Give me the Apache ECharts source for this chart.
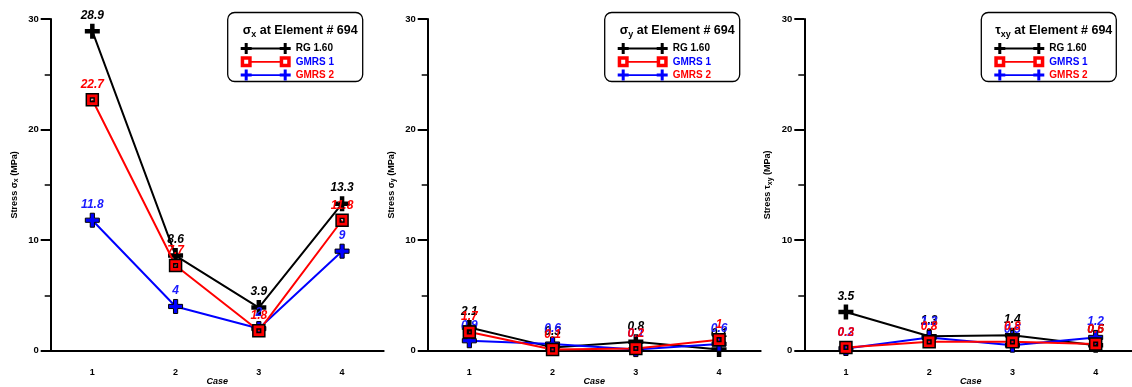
<!DOCTYPE html>
<html lang="en">
<head>
<meta charset="utf-8">
<script src="https://cdn.jsdelivr.net/npm/echarts@6/dist/echarts.min.js"></script>
<style>
  html, body { margin: 0; padding: 0; background: #fff; }
  #chart { width: 1132px; height: 387px; }
</style>
<title>Stress at Element # 694</title>
</head>
<body>
<div id="chart"></div>
<script>
// cases on the x axis
var cases = ['1', '2', '3', '4'];
var yTicks = [0, 10, 20, 30];

// sigma x
var sxRG = [28.9, 8.6, 3.9, 13.3];
var sxG1 = [22.7, 7.7, 1.8, 11.8];
var sxG2 = [11.8, 4, 2.0, 9];
// sigma y
var syRG = [2.1, 0.3, 0.8, 0.1];
var syG1 = [1.7, 0.1, 0.2, 1];
var syG2 = [0.9, 0.6, 0.1, 0.6];
// tau xy
var txRG = [3.5, 1.3, 1.4, 0.5];
var txG1 = [0.3, 0.8, 0.8, 0.6];
var txG2 = [0.2, 1.2, 0.5, 1.2];

var seriesNames = ['RG 1.60', 'GMRS 1', 'GMRS 2'];

var plus = 'path://M3.5,0H6.5V3.5H10V6.5H6.5V10H3.5V6.5H0V3.5H3.5Z';
var boxed = 'path://M0,0H10V10H0Z M3.5,3.5V6.5H6.5V3.5Z';
// legend icons: line with a marker at both ends
var plusIcon = 'path://M4,0H7V4H11V7H7V11H4V7H0V4H4Z M43,0H46V4H50V7H46V11H43V7H39V4H43Z M11,4.6H39V6.4H11Z';
var boxIcon = 'path://M0,0H11V11H0Z M3.5,3.5V7.5H7.5V3.5Z M39,0H50V11H39Z M42.5,3.5V7.5H46.5V3.5Z M11,4.6H39V6.4H11Z';

var panels = [
    {sym: 'σ', sub: 'x', rg: sxRG, g1: sxG1, g2: sxG2, left: 50.7},
    {sym: 'σ', sub: 'y', rg: syRG, g1: syG1, g2: syG2, left: 427.7},
    {sym: 'τ', sub: 'xy', rg: txRG, g1: txG1, g2: txG2, left: 804.3}
];

var font = '"Liberation Sans", Arial, sans-serif';
var richSub = {
    a: {fontFamily: font, fontWeight: 'bold', fontSize: 9, color: '#000'},
    s: {fontFamily: font, fontWeight: 'bold', fontSize: 7, color: '#000', padding: [4, 0, 0, 0]}
};
var richTitle = {
    a: {fontFamily: font, fontWeight: 'bold', fontSize: 12.5, color: '#000'},
    s: {fontFamily: font, fontWeight: 'bold', fontSize: 9, color: '#000', padding: [7, 0, 0, 0]}
};

var grids = [], xAxes = [], yAxes = [], series = [], titles = [], legends = [], graphics = [];

function labelStyle(c) {
    return {
        show: true, position: 'top', distance: 2,
        color: c, fontFamily: font, fontWeight: 'bold', fontStyle: 'italic', fontSize: 12
    };
}

panels.forEach(function (p, i) {
    grids.push({left: p.left, top: 19, width: 333, height: 331.7, outerBoundsMode: 'none'});
    xAxes.push({
        type: 'category', gridIndex: i, data: cases, boundaryGap: true,
        name: 'Case', nameLocation: 'middle', nameGap: 26, nameMoveOverlap: false,
        nameTextStyle: {fontFamily: font, fontWeight: 'bold', fontStyle: 'italic', fontSize: 9, color: '#000'},
        axisLine: {lineStyle: {color: '#000', width: 2}},
        axisTick: {alignWithLabel: true, length: 9, lineStyle: {color: '#000', width: 1.5}},
        axisLabel: {margin: 17, fontFamily: font, fontWeight: 'bold', fontSize: 9, color: '#000'},
        splitLine: {show: false}
    });
    yAxes.push({
        type: 'value', gridIndex: i, min: yTicks[0], max: yTicks[yTicks.length - 1], interval: 10,
        name: '{a|Stress }{a|' + p.sym + '}{s|' + p.sub + '}{a| (MPa)}',
        nameLocation: 'middle', nameGap: 31, nameRotate: 90, nameMoveOverlap: false,
        nameTextStyle: {rich: richSub},
        axisLine: {show: true, lineStyle: {color: '#000', width: 2}},
        axisTick: {show: true, length: 10, lineStyle: {color: '#000', width: 2}},
        minorTick: {show: true, splitNumber: 2, length: 6, lineStyle: {color: '#000', width: 1.5}},
        axisLabel: {margin: 12, fontFamily: font, fontWeight: 'bold', fontSize: 9.5, color: '#000'},
        splitLine: {show: false}
    });

    series.push({
        name: seriesNames[0], type: 'line', xAxisIndex: i, yAxisIndex: i, data: p.rg,
        symbol: plus, symbolSize: 15, color: '#000',
        lineStyle: {width: 2, color: '#000'},
        itemStyle: {color: '#000'},
        label: labelStyle('#000'), z: 2
    });
    series.push({
        name: seriesNames[2], type: 'line', xAxisIndex: i, yAxisIndex: i, data: p.g2,
        symbol: plus, symbolSize: 14, color: '#0000ff',
        lineStyle: {width: 2, color: '#0000ff'},
        itemStyle: {color: '#0000ff', borderColor: '#000', borderWidth: 1},
        label: labelStyle('#1a1aff'), z: 3
    });
    series.push({
        name: seriesNames[1], type: 'line', xAxisIndex: i, yAxisIndex: i, data: p.g1,
        symbol: boxed, symbolSize: 12, color: '#ff0000',
        lineStyle: {width: 2, color: '#ff0000'},
        itemStyle: {color: '#ff0000', borderColor: '#000', borderWidth: 1.5},
        label: labelStyle('#ff0000'), z: 4
    });

    var bx = p.left + 177;
    graphics.push({
        type: 'rect', z: 0,
        shape: {x: bx, y: 12.5, width: 135, height: 69, r: 7},
        style: {fill: 'none', stroke: '#000', lineWidth: 1.3}
    });
    titles.push({
        text: '{a|' + p.sym + '}{s|' + p.sub + '}{a| at Element # 694}',
        left: bx + 67.5, top: 18, textAlign: 'center',
        textStyle: {rich: richTitle}
    });
    legends.push({
        orient: 'vertical', left: bx + 8, top: 38,
        itemWidth: 50, itemHeight: 11, itemGap: 2.3,
        textStyle: {fontFamily: font, fontWeight: 'bold', fontSize: 10},
        selectedMode: false,
        data: [
            {name: seriesNames[0], icon: plusIcon, itemStyle: {color: '#000', borderWidth: 0}, textStyle: {color: '#000'}},
            {name: seriesNames[1], icon: boxIcon, itemStyle: {color: '#ff0000', borderWidth: 0}, textStyle: {color: '#0000ff'}},
            {name: seriesNames[2], icon: plusIcon, itemStyle: {color: '#0000ff', borderWidth: 0}, textStyle: {color: '#ff0000'}}
        ]
    });
});

var myChart = echarts.init(document.getElementById('chart'), null, {renderer: 'canvas'});
myChart.setOption({
    animation: false,
    backgroundColor: '#fff',
    title: titles,
    legend: legends,
    grid: grids,
    xAxis: xAxes,
    yAxis: yAxes,
    series: series,
    graphic: graphics
});
</script>
</body>
</html>
